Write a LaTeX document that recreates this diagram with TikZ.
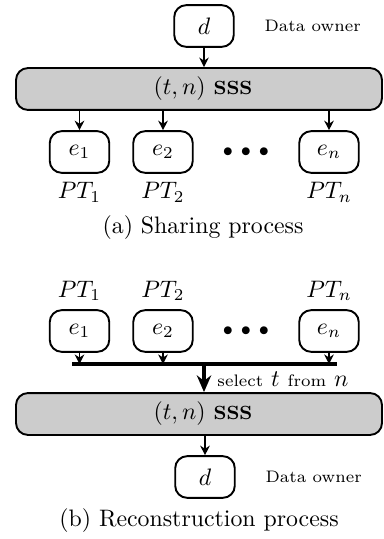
\documentclass[tikz,border=0pt]{standalone}
\usepackage{amsmath}
\usetikzlibrary{positioning,arrows.meta}

\tikzset{
  party/.style={draw, thick, rounded corners=5pt, minimum width=25pt, minimum height=17.5pt, inner sep=0pt},
  scheme/.style={draw, thick, rounded corners=5pt, fill=gray!40, minimum width=153.7pt, minimum height=17.6pt, inner sep=0pt},
  note/.style={font=\scriptsize},
  dots/.style={font=\footnotesize},
  conn/.style={line width=0.7pt, -{Stealth[length=4pt,width=4pt]}},
  bigconn/.style={line width=1.3pt, -{Stealth[length=7pt,width=6pt]}},
}

\begin{document}
\begin{tikzpicture}[x=0.42pt, y=-0.42pt]
  \useasboundingbox (0,0) rectangle (383,539);

  % Define nodes: sharing
  \node[party]                  (d_s)   at (204,26)  {$d$};
  \node[note, right=9pt of d_s] (own_s) {Data owner};
  \node[scheme]                 (sss_s) at (199,89)  {\hspace*{3.4pt}$(t,n)$ \textbf{\footnotesize SSS}};
  \node[party]                  (e_1s)  at (79.5,152) {$e_1$};
  \node[party]                  (e_2s)  at (163,152) {$e_2$};
  \node[party]                  (e_ns)  at (329,152) {$e_n$};
  \node[dots]                   (dot_s) at (246,152) {$\bullet\,\bullet\,\bullet$};
  \node[below=0pt of e_1s]      (pt_1s) {$PT_1$};
  \node[below=0pt of e_2s]      (pt_2s) {$PT_2$};
  \node[below=0pt of e_ns]      (pt_ns) {$PT_n$};
  \node                         (cap_s) at (203,228) {(a) Sharing process};

  % Connect the nodes: sharing
  \draw[conn] (d_s) -- (sss_s.north -| d_s);
  \draw[conn] (sss_s.south -| e_1s) -- (e_1s);
  \draw[conn] (sss_s.south -| e_2s) -- (e_2s);
  \draw[conn] (sss_s.south -| e_ns) -- (e_ns);

  % Define nodes: reconstruction
  \node[party]                  (e_1r)  at (79.5,331) {$e_1$};
  \node[party]                  (e_2r)  at (163,331) {$e_2$};
  \node[party]                  (e_nr)  at (329,331) {$e_n$};
  \node[dots]                   (dot_r) at (246,331) {$\bullet\,\bullet\,\bullet$};
  \node[above=0pt of e_1r]      (pt_1r) {$PT_1$};
  \node[above=0pt of e_2r]      (pt_2r) {$PT_2$};
  \node[above=0pt of e_nr]      (pt_nr) {$PT_n$};
  \coordinate                   (bar_l) at (72,364);
  \coordinate                   (bar_r) at (337,364);
  \coordinate                   (bar_m) at (204,364);
  \node[scheme]                 (sss_r) at (199,414) {\hspace*{3.4pt}$(t,n)$ \textbf{\footnotesize SSS}};
  \node[anchor=west, inner sep=0pt] (sel) at (217,379) {{\scriptsize select} $t$ {\scriptsize from} $n$};
  \node[party]                  (d_r)   at (205,477) {$d$};
  \node[note, right=9pt of d_r] (own_r) {Data owner};
  \node                         (cap_r) at (199,521) {(b) Reconstruction process};

  % Connect the nodes: reconstruction
  \draw[conn] (e_1r) -- (e_1r |- bar_l);
  \draw[conn] (e_2r) -- (e_2r |- bar_l);
  \draw[conn] (e_nr) -- (e_nr |- bar_l);
  \draw[line width=2pt] (bar_l) -- (bar_r);
  \draw[bigconn] (bar_m) -- (bar_m |- sss_r.north);
  \draw[conn] (sss_r.south -| d_r) -- (d_r);

\end{tikzpicture}
\end{document}
